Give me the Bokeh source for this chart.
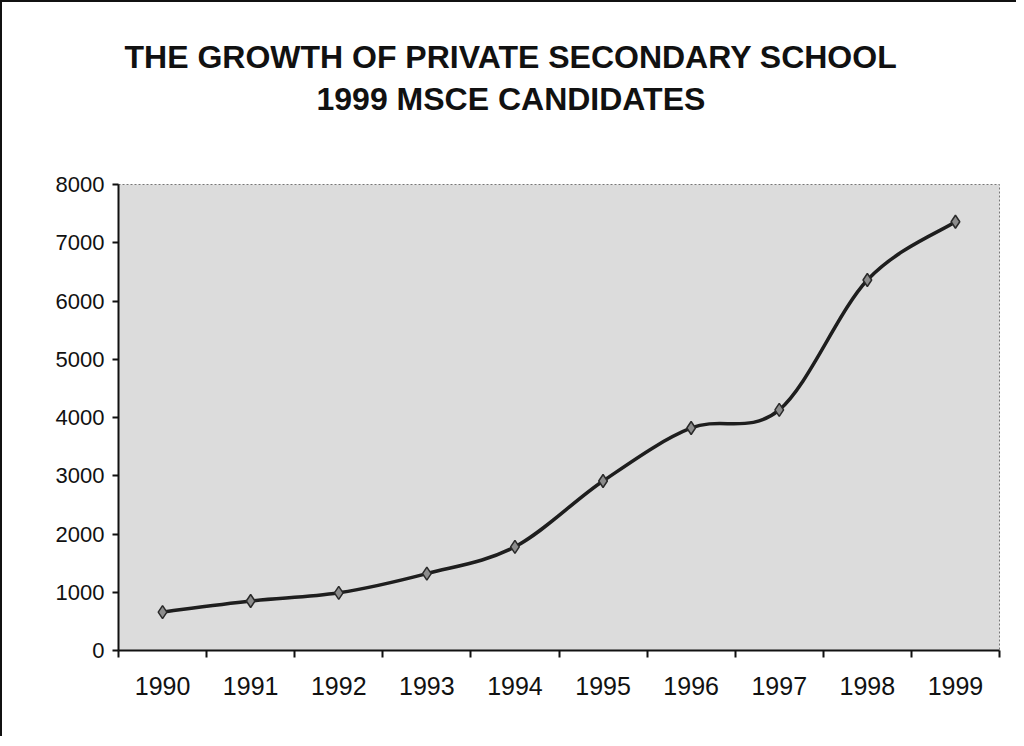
from bokeh.plotting import figure
from bokeh.models import FixedTicker, Title, ColumnDataSource
from bokeh.embed import file_html
from bokeh.resources import INLINE

years = ["1990", "1991", "1992", "1993", "1994", "1995", "1996", "1997", "1998", "1999"]
candidates = [660, 850, 990, 1320, 1780, 2910, 3820, 4130, 6360, 7360]
y_ticks = [0, 1000, 2000, 3000, 4000, 5000, 6000, 7000, 8000]
title_line1 = "THE GROWTH OF PRIVATE SECONDARY SCHOOL"
title_line2 = "1999 MSCE CANDIDATES"

FONT = "Liberation Sans"

xs = [i + 0.5 for i in range(len(years))]
ys = candidates

p = figure(width=1016, height=736, x_range=(0, len(years)), y_range=(0, 8000),
           output_backend="svg", toolbar_location=None, title=None,
           min_border_left=116, min_border_right=19, min_border_top=182, min_border_bottom=88)
p.styles = {"border-top": "2px solid #111", "border-left": "2px solid #111"}

p.background_fill_color = "#dcdcdc"
p.border_fill_color = "white"
p.outline_line_color = "#777777"
p.outline_line_dash = "2 2"
p.grid.visible = False

# Smoothed (Catmull-Rom style) curve through the data points
n = len(xs)
x0, y0, x1, y1, cx0, cy0, cx1, cy1 = [], [], [], [], [], [], [], []
for i in range(n - 1):
    xp = xs[i - 1] if i > 0 else xs[i]
    yp = ys[i - 1] if i > 0 else ys[i]
    xn = xs[i + 2] if i + 2 < n else xs[i + 1]
    yn = ys[i + 2] if i + 2 < n else ys[i + 1]
    x0.append(xs[i]); y0.append(ys[i]); x1.append(xs[i + 1]); y1.append(ys[i + 1])
    cx0.append(xs[i] + (xs[i + 1] - xp) / 6.0)
    cy0.append(ys[i] + (ys[i + 1] - yp) / 6.0)
    cx1.append(xs[i + 1] - (xn - xs[i]) / 6.0)
    cy1.append(ys[i + 1] - (yn - ys[i]) / 6.0)
p.bezier(x0=x0, y0=y0, x1=x1, y1=y1, cx0=cx0, cy0=cy0, cx1=cx1, cy1=cy1,
         line_color="#1e1e1e", line_width=3.5)

src = ColumnDataSource(dict(x=xs, y=ys))
p.scatter("x", "y", source=src, marker="diamond", size=13,
          fill_color="#8c8c8c", line_color="#2a2a2a", line_width=1.5)

# X axis: labels centred in categories, tick marks at boundaries
xt = FixedTicker(ticks=xs, minor_ticks=list(range(len(years) + 1)))
p.xaxis.ticker = xt
p.xaxis.major_label_overrides = {x: y for x, y in zip(xs, years)}
p.xaxis.major_tick_line_color = None
p.xaxis.minor_tick_line_color = "#111111"
p.xaxis.minor_tick_line_width = 2
p.xaxis.minor_tick_out = 7
p.xaxis.minor_tick_in = 0
p.xaxis.axis_line_color = "#111111"
p.xaxis.axis_line_width = 2
p.xaxis.major_label_text_font = FONT
p.xaxis.major_label_text_font_size = "25px"
p.xaxis.major_label_text_color = "#111111"
p.xaxis.major_label_standoff = 19

p.yaxis.ticker = FixedTicker(ticks=y_ticks)
p.yaxis.minor_tick_line_color = None
p.yaxis.major_tick_line_color = "#111111"
p.yaxis.major_tick_line_width = 2
p.yaxis.major_tick_out = 6
p.yaxis.major_tick_in = 0
p.yaxis.axis_line_color = "#111111"
p.yaxis.axis_line_width = 2
p.yaxis.major_label_text_font = FONT
p.yaxis.major_label_text_font_size = "22px"
p.yaxis.major_label_text_color = "#111111"
p.yaxis.major_label_standoff = 8

# Title: spacer next to the frame, then line 2, then line 1
spacer = Title(text=" ", text_font_size="1px", standoff=65)
t2 = Title(text=title_line2, align="left", offset=198, text_font=FONT, text_font_size="32px",
           text_font_style="bold", text_color="#111111", standoff=0)
t1 = Title(text=title_line1, align="left", offset=6, text_font=FONT, text_font_size="32px",
           text_font_style="bold", text_color="#111111", standoff=8)
p.add_layout(spacer, "above")
p.add_layout(t2, "above")
p.add_layout(t1, "above")

open("out.html", "w").write(file_html(p, INLINE))
